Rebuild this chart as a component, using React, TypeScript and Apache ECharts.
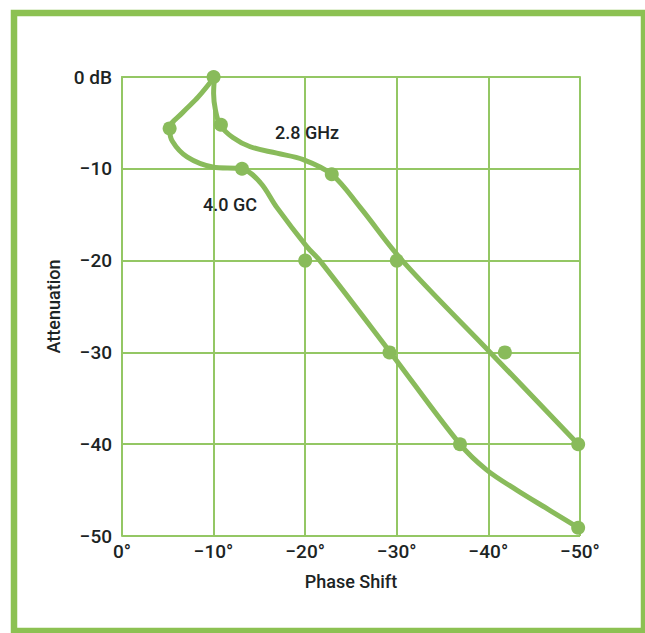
import React, { useEffect, useRef } from "react";
import * as echarts from "echarts";

const xTicks = [0, -10, -20, -30, -40, -50];
const yTicks = [0, -10, -20, -30, -40, -50];

// 2.8 GHz curve path
const curve28: [number, number][] = [
  [-10.1, 0], [-10.0, -1.8], [-10.2, -3.6], [-10.7, -5.2], [-12.1, -6.6],
  [-14.0, -7.6], [-16.9, -8.3], [-19.8, -9.0], [-22.9, -10.6], [-26.0, -14.2],
  [-30.6, -20], [-40.2, -30], [-49.8, -40],
];
const dots28: [number, number][] = [
  [-10, 0], [-10.8, -5.2], [-22.9, -10.6], [-30, -20], [-41.8, -30], [-49.8, -40],
];

// 4.0 GC curve path
const curve40: [number, number][] = [
  [-10.1, 0], [-8.3, -2.2], [-6.6, -3.9], [-5.2, -5.6], [-5.5, -7.0],
  [-7.1, -8.7], [-9.9, -9.8], [-13.1, -10], [-15.1, -11.5], [-16.9, -14.2],
  [-20.2, -18.5], [-21.6, -20], [-29.3, -30], [-36.9, -40], [-39.8, -42.8],
  [-43.1, -45], [-46.7, -47.2], [-49.8, -49.1],
];
const dots40: [number, number][] = [
  [-5.2, -5.6], [-13.1, -10], [-20, -20], [-29.2, -30], [-36.9, -40], [-49.8, -49.1],
];

const seriesLabels = ["2.8 GHz", "4.0 GC"];
const labelPositions: [number, number][] = [[-20.2, -6.1], [-11.8, -13.9]];

const GREEN = "#8cc152";
const GRID = "#94c764";
const CURVE = "#89bb5b";
const TEXT = "#1c2424";
const FONT = "Roboto, 'Liberation Sans', sans-serif";

export default function App() {
  const ref = useRef<HTMLDivElement>(null);
  useEffect(() => {
    if (!ref.current) return;
    const chart = echarts.init(ref.current, null, { renderer: "svg" });
    const minus = (v: number) => (v < 0 ? "\u2212" + Math.abs(v) : String(v));
    chart.setOption({
      animation: false,
      backgroundColor: "#ffffff",
      grid: { left: 122, right: 65, top: 77, bottom: 97, show: false },
      xAxis: {
        type: "value",
        min: -50,
        max: 0,
        interval: 10,
        inverse: true,
        axisLine: { show: true, lineStyle: { color: GRID, width: 2 } },
        axisTick: { show: false },
        splitLine: { show: true, lineStyle: { color: GRID, width: 2 } },
        axisLabel: {
          color: TEXT,
          fontSize: 19,
          fontFamily: FONT,
          fontWeight: 500,
          margin: 6,
          formatter: (v: number) => minus(v) + "°",
        },
        name: "Phase Shift",
        nameLocation: "middle",
        nameGap: 36,
        nameTextStyle: { color: TEXT, fontSize: 18, fontFamily: FONT, fontWeight: 500 },
      },
      yAxis: {
        type: "value",
        min: -50,
        max: 0,
        interval: 10,
        axisLine: { show: true, lineStyle: { color: GRID, width: 2 } },
        axisTick: { show: false },
        splitLine: { show: true, lineStyle: { color: GRID, width: 2 } },
        axisLabel: {
          color: TEXT,
          fontSize: 19,
          fontFamily: FONT,
          fontWeight: 500,
          margin: 10,
          formatter: (v: number) => (v === 0 ? "0 dB" : minus(v)),
        },
        name: "Attenuation",
        nameLocation: "middle",
        nameGap: 57,
        nameRotate: 90,
        nameTextStyle: { color: TEXT, fontSize: 18, fontFamily: FONT, fontWeight: 500 },
      },
      graphic: [
        {
          type: "rect",
          shape: { x: 14, y: 13, width: 630, height: 618 },
          style: { fill: "none", stroke: GREEN, lineWidth: 6.5 },
          z: 100,
        },
      ],
      series: [
        {
          name: seriesLabels[0],
          type: "line",
          data: curve28,
          smooth: 0.35,
          showSymbol: false,
          lineStyle: { color: CURVE, width: 5 },
          z: 3,
        },
        {
          name: seriesLabels[1],
          type: "line",
          data: curve40,
          smooth: 0.35,
          showSymbol: false,
          lineStyle: { color: CURVE, width: 5 },
          z: 3,
        },
        {
          type: "scatter",
          data: dots28.concat(dots40),
          symbolSize: 14,
          itemStyle: { color: CURVE, opacity: 1 },
          z: 4,
        },
        {
          type: "scatter",
          data: labelPositions,
          symbolSize: 1,
          itemStyle: { color: "rgba(0,0,0,0)" },
          label: {
            show: true,
            position: "inside",
            color: TEXT,
            opacity: 1,
            fontSize: 18,
            fontFamily: FONT,
            fontWeight: 500,
            formatter: (p: any) => seriesLabels[p.dataIndex],
          },
          z: 5,
        },
      ],
    });
    return () => chart.dispose();
  }, []);
  return (
    <div
      ref={ref}
      style={{ position: "absolute", left: 0, top: 0, width: 645, height: 633 }}
    />
  );
}
